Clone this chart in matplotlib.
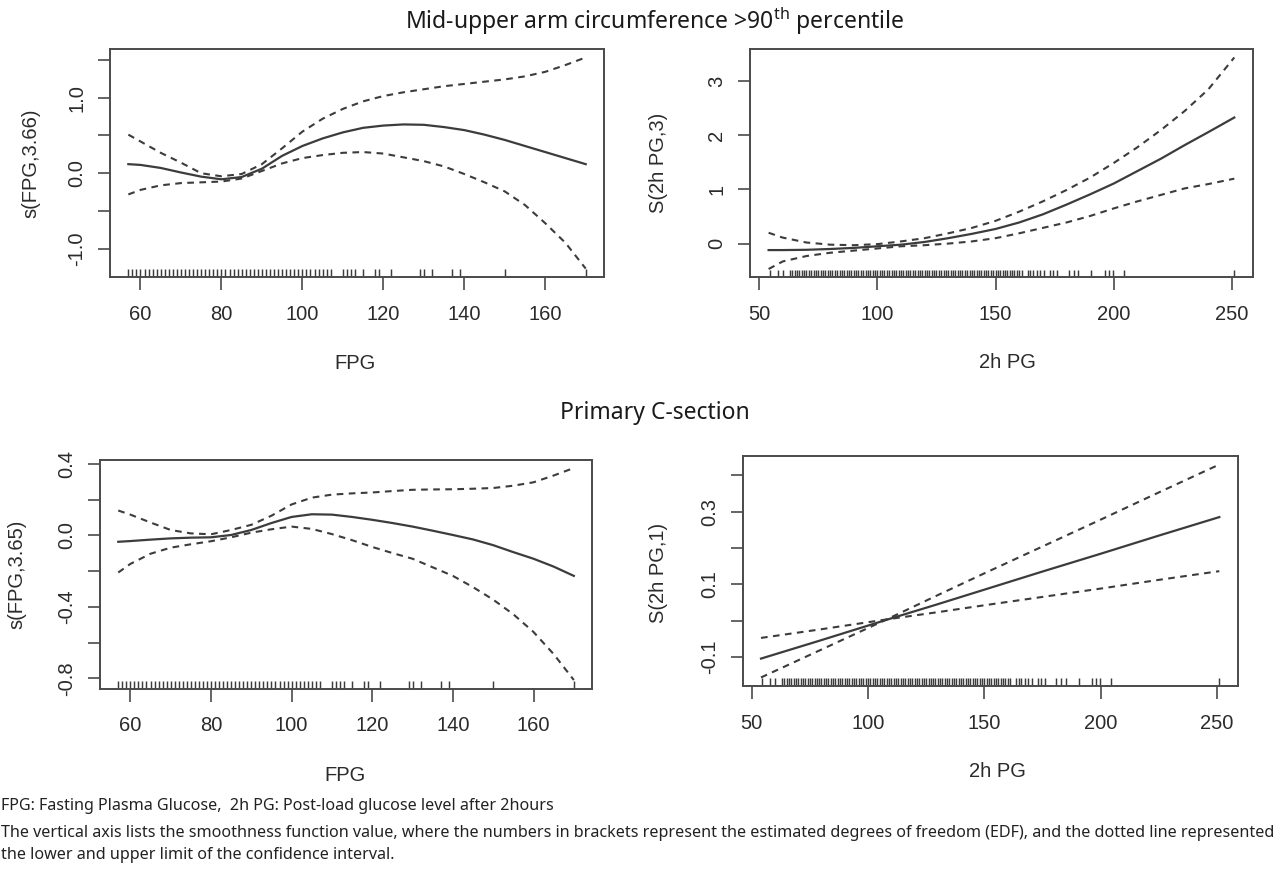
import numpy as np
import matplotlib.pyplot as plt

plt.rcParams['font.family'] = ['Liberation Sans', 'DejaVu Sans']
plt.rcParams['mathtext.fontset'] = 'custom'
plt.rcParams['mathtext.rm'] = 'Noto Sans'

LINE = '#3c3c3c'
AXC = '#4a4a4a'
TXT = '#2b2b2b'

# --- FPG, mid-upper arm circumference (edf 3.66) ---
fpg_x = [57, 60, 65, 70, 75, 80, 85, 90, 95, 100, 105, 110, 115, 120,
         125, 130, 135, 140, 145, 150, 155, 160, 165, 170]
muac_fpg_fit = [0.12, 0.11, 0.07, 0.01, -0.045, -0.08, -0.05, 0.06, 0.23, 0.36, 0.46, 0.54,
                0.60, 0.63, 0.645, 0.64, 0.61, 0.57, 0.51, 0.44, 0.36, 0.28, 0.20, 0.12]
muac_fpg_up = [0.51, 0.42, 0.27, 0.14, 0.0, -0.04, -0.01, 0.12, 0.33, 0.55, 0.72, 0.85,
               0.95, 1.02, 1.07, 1.11, 1.15, 1.18, 1.21, 1.24, 1.28, 1.34, 1.43, 1.53]
muac_fpg_lo = [-0.28, -0.22, -0.16, -0.13, -0.12, -0.11, -0.07, 0.03, 0.13, 0.20, 0.24, 0.27,
               0.28, 0.26, 0.21, 0.16, 0.09, -0.01, -0.12, -0.24, -0.42, -0.66, -0.92, -1.26]

# --- 2h PG, mid-upper arm circumference (edf 3) ---
pg_x = [54, 60, 70, 80, 90, 100, 110, 120, 130, 140, 150, 160, 170, 180,
        190, 200, 210, 220, 230, 240, 251]
muac_pg_fit = [-0.12, -0.12, -0.115, -0.10, -0.08, -0.05, -0.02, 0.03, 0.10, 0.18, 0.27,
               0.39, 0.54, 0.72, 0.91, 1.11, 1.34, 1.57, 1.82, 2.06, 2.33]
muac_pg_up = [0.20, 0.11, 0.02, -0.02, -0.03, -0.01, 0.04, 0.10, 0.19, 0.29, 0.42,
              0.59, 0.78, 0.99, 1.22, 1.49, 1.78, 2.10, 2.45, 2.85, 3.44]
muac_pg_lo = [-0.47, -0.33, -0.23, -0.17, -0.13, -0.09, -0.05, -0.03, 0.0, 0.04, 0.10,
              0.19, 0.29, 0.39, 0.51, 0.65, 0.78, 0.90, 1.02, 1.10, 1.20]

# --- FPG, primary C-section (edf 3.65) ---
cs_fpg_fit = [-0.036, -0.032, -0.024, -0.017, -0.013, -0.011, 0.002, 0.03, 0.069, 0.103, 0.118, 0.116,
              0.103, 0.087, 0.069, 0.049, 0.026, 0.002, -0.023, -0.055, -0.094, -0.131, -0.175, -0.227]
cs_fpg_up = [0.139, 0.116, 0.072, 0.03, 0.011, 0.006, 0.03, 0.059, 0.11, 0.173, 0.211, 0.228,
             0.235, 0.24, 0.248, 0.255, 0.257, 0.258, 0.261, 0.265, 0.278, 0.297, 0.335, 0.377]
cs_fpg_lo = [-0.208, -0.16, -0.103, -0.069, -0.05, -0.033, -0.011, 0.015, 0.034, 0.049, 0.036, 0.007,
             -0.027, -0.065, -0.099, -0.131, -0.179, -0.227, -0.29, -0.36, -0.442, -0.541, -0.665, -0.81]

# --- 2h PG, primary C-section (edf 1) ---
cs_pg_x = [54, 80, 108, 130, 150, 175, 200, 225, 251]
cs_pg_fit = [-0.105, -0.054, 0.002, 0.045, 0.085, 0.135, 0.184, 0.234, 0.285]
cs_pg_up = [-0.048, -0.024, 0.003, 0.07, 0.13, 0.204, 0.278, 0.353, 0.43]
cs_pg_lo = [-0.157, -0.08, 0.003, 0.023, 0.042, 0.065, 0.088, 0.112, 0.136]

# rug (observed values)
fpg_rug = [57, 58, 59, 60, 61, 62, 63, 64, 65, 66, 67, 68, 69, 70, 71, 72, 73, 74, 75, 76,
           77, 78, 79, 80, 81, 82, 83, 84, 85, 86, 87, 88, 89, 90, 91, 92, 93, 94, 95, 96,
           97, 98, 99, 100, 101, 102, 103, 104, 105, 106, 107,
           110, 111, 112, 113, 115, 118, 119, 122, 129, 130, 132, 137, 139, 150, 170]
pg_rug = [54.5, 58, 60, 63, 64, 65, 66, 67, 68, 69, 70, 71, 72, 73, 74, 75, 76, 77, 78, 79,
          80, 81, 82, 83, 84, 85, 86, 87, 88, 89, 90, 91, 92, 93, 94, 95, 96, 97, 98, 99,
          100, 101, 102, 103, 104, 105, 106, 107, 108, 109, 110, 111, 112, 113, 114, 115,
          116, 117, 118, 119, 120, 121, 122, 123, 124, 125, 126, 127, 128, 129, 130, 131,
          132, 133, 134, 135, 136, 137, 138, 139, 140, 141, 142, 143, 144, 145, 146, 147,
          148, 149, 150, 151, 152, 153, 154, 155, 156, 157, 158, 159, 160, 161,
          163.7, 164.7, 165.8, 167.5, 168.9, 170.3, 173.1, 174.5, 175.9, 181, 183, 185,
          190.5, 196.4, 197.8, 199.8, 204.3, 251]

fig = plt.figure(figsize=(12.84, 8.69), dpi=100)


def panel(rect, x, fit, up, lo, rug, xticks, yticks, ylabs, xlabel, ylabel, xlab_xy, ylab_xy):
    ax = fig.add_axes(rect)
    ax.plot(x, fit, color=LINE, lw=1.6)
    ax.plot(x, up, color=LINE, lw=1.5, ls=(0, (3.2, 2.6)))
    ax.plot(x, lo, color=LINE, lw=1.5, ls=(0, (3.2, 2.6)))
    ax.vlines(rug, 0, 0.034, transform=ax.get_xaxis_transform(), colors=LINE, lw=1.05)
    # R style 4% padding around the data range
    x = np.asarray(x)
    yall = np.concatenate([fit, up, lo])
    xr = x.max() - x.min()
    yr = yall.max() - yall.min()
    ax.set_xlim(x.min() - 0.04 * xr, x.max() + 0.04 * xr)
    ax.set_ylim(yall.min() - 0.04 * yr, yall.max() + 0.04 * yr)
    ax.set_xticks(xticks)
    ax.set_yticks(yticks)
    ax.set_yticklabels(ylabs)
    ax.tick_params(direction='out', length=9, width=1.2, color=AXC,
                   labelsize=14.5, labelcolor=TXT)
    ax.tick_params(axis='x', pad=11)
    ax.tick_params(axis='y', pad=8, labelrotation=90)
    for lab in ax.get_yticklabels():
        lab.set_va('center')
    for s in ax.spines.values():
        s.set_color(AXC)
        s.set_linewidth(1.4)
    ax.set_xlabel(xlabel, fontsize=14.5, color=TXT, va='center')
    ax.xaxis.set_label_coords(*xlab_xy)
    ax.set_ylabel(ylabel, fontsize=14.5, color=TXT, va='center')
    ax.yaxis.set_label_coords(*ylab_xy)
    return ax


fpg_ticks = [60, 80, 100, 120, 140, 160]
pg_ticks = [50, 100, 150, 200, 250]

panel([0.0857, 0.6812, 0.3847, 0.2624], fpg_x, muac_fpg_fit, muac_fpg_up, muac_fpg_lo, fpg_rug,
      fpg_ticks, [-1.0, -0.5, 0.0, 0.5, 1.0, 1.5], ['-1.0', '', '0.0', '', '1.0', ''],
      'FPG', 's(FPG,3.66)', (0.496, -0.377), (-0.161, 0.5))
panel([0.5841, 0.6807, 0.3917, 0.2629], pg_x, muac_pg_fit, muac_pg_up, muac_pg_lo, pg_rug,
      pg_ticks, [0, 1, 2, 3], ['0', '1', '2', '3'],
      '2h PG', 'S(2h PG,3)', (0.512, -0.37), (-0.182, 0.5))
panel([0.0779, 0.2077, 0.3832, 0.2635], fpg_x, cs_fpg_fit, cs_fpg_up, cs_fpg_lo, fpg_rug,
      fpg_ticks, [-0.8, -0.6, -0.4, -0.2, 0.0, 0.2, 0.4], ['-0.8', '', '-0.4', '', '0.0', '', '0.4'],
      'FPG', 's(FPG,3.65)', (0.498, -0.378), (-0.169, 0.5))
panel([0.5784, 0.2106, 0.3855, 0.2647], cs_pg_x, cs_pg_fit, cs_pg_up, cs_pg_lo, pg_rug,
      pg_ticks, [-0.1, 0.0, 0.1, 0.2, 0.3, 0.4], ['-0.1', '', '0.1', '', '0.3', ''],
      '2h PG', 'S(2h PG,1)', (0.514, -0.373), (-0.17, 0.49))

fig.text(0.51, 1 - 21 / 869, r'Mid-upper arm circumference >90$^{\mathrm{th}}$ percentile',
         ha='center', va='center', fontsize=16.5, family='Noto Sans', color='#1a1a1a')
fig.text(0.51, 1 - 413 / 869, 'Primary C-section',
         ha='center', va='center', fontsize=16.5, family='Noto Sans', color='#1a1a1a')

cap = dict(ha='left', va='center', fontsize=11.6, family='Noto Sans', color='#222222')
fig.text(0.001, 1 - 806 / 869, 'FPG: Fasting Plasma Glucose,  2h PG: Post-load glucose level after 2hours', **cap)
fig.text(0.001, 1 - 833 / 869, 'The vertical axis lists the smoothness function value, where the numbers in brackets '
         'represent the estimated degrees of freedom (EDF), and the dotted line represented', **cap)
fig.text(0.001, 1 - 855 / 869, 'the lower and upper limit of the confidence interval.', **cap)

fig.savefig('out.png', dpi=100)
